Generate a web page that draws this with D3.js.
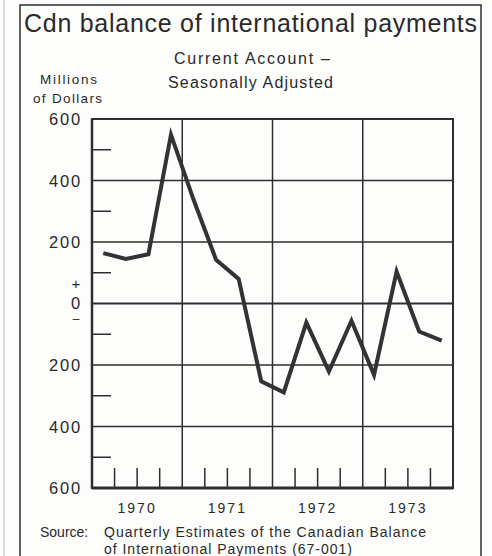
<!DOCTYPE html>
<html>
<head>
<meta charset="utf-8">
<script src="https://cdn.jsdelivr.net/npm/d3@7"></script>
<style>
  html, body { margin: 0; padding: 0; background: #fdfdfc; }
  svg { display: block; }
  text { font-family: "Liberation Sans", Arial, sans-serif; fill: #2a2a2a; }
</style>
</head>
<body>
<div id="chart"></div>
<script>
// Quarterly current account balance, 1970 Q1 – 1973 Q4 (millions of dollars)
const quarters = ["1970Q1","1970Q2","1970Q3","1970Q4","1971Q1","1971Q2","1971Q3","1971Q4",
                  "1972Q1","1972Q2","1972Q3","1972Q4","1973Q1","1973Q2","1973Q3","1973Q4"];
const balance = [164, 145, 160, 549, 338, 142, 80, -253, -289, -62, -221, -56, -232, 104, -91, -121];
const years = ["1970", "1971", "1972", "1973"];
const yTickValues = [600, 400, 200, 0, -200, -400, -600];
const yTickLabels = ["600", "400", "200", "0", "200", "400", "600"];
const minorTicks = [500, 300, 100, -100, -300, -500];

const W = 492, H = 556;
const svg = d3.select("#chart").append("svg")
    .attr("width", W)
    .attr("height", H);

const x = d3.scaleLinear().domain([0, quarters.length]).range([92, 453]);
const y = d3.scaleLinear().domain([-600, 600]).range([488, 119]);
const ink = "#2e2e2e";

// outer frame (bottom runs off the page) and scan edge
svg.append("line").attr("x1", 4).attr("x2", 4).attr("y1", 0).attr("y2", H)
    .attr("stroke", "#bbb").attr("stroke-width", 1);
svg.append("path")
    .attr("d", `M20,${H} V5 H481 V${H}`)
    .attr("fill", "none").attr("stroke", ink).attr("stroke-width", 1.5);

// title
svg.append("text").attr("x", 24).attr("y", 32)
    .attr("font-size", 25).attr("textLength", 453).attr("lengthAdjust", "spacing")
    .text("Cdn balance of international payments");
svg.append("text").attr("x", 174).attr("y", 64)
    .attr("font-size", 16).attr("textLength", 156).attr("lengthAdjust", "spacing")
    .text("Current Account \u2013");
svg.append("text").attr("x", 168).attr("y", 88)
    .attr("font-size", 16).attr("textLength", 165).attr("lengthAdjust", "spacing")
    .text("Seasonally Adjusted");
svg.append("text").attr("x", 40).attr("y", 84)
    .attr("font-size", 13.5).attr("textLength", 57).attr("lengthAdjust", "spacing")
    .text("Millions");
svg.append("text").attr("x", 33).attr("y", 103)
    .attr("font-size", 13.5).attr("textLength", 69).attr("lengthAdjust", "spacing")
    .text("of Dollars");

const g = svg.append("g");

// horizontal grid
g.selectAll("line.hgrid").data(yTickValues.slice(1, -1)).enter().append("line")
    .attr("x1", x(0)).attr("x2", x(16))
    .attr("y1", d => y(d)).attr("y2", d => y(d))
    .attr("stroke", ink).attr("stroke-width", d => d === 0 ? 2 : 1.5);

// vertical year boundaries
g.selectAll("line.vgrid").data([4, 8, 12]).enter().append("line")
    .attr("x1", d => x(d)).attr("x2", d => x(d))
    .attr("y1", y(600)).attr("y2", y(-600))
    .attr("stroke", ink).attr("stroke-width", 1.5);

// minor ticks on the left
g.selectAll("line.minor").data(minorTicks).enter().append("line")
    .attr("x1", x(0)).attr("x2", x(0) + 19)
    .attr("y1", d => y(d)).attr("y2", d => y(d))
    .attr("stroke", ink).attr("stroke-width", 1.5);

// quarter ticks along the bottom
const qTicks = d3.range(1, 16).filter(i => i % 4 !== 0);
g.selectAll("line.qtick").data(qTicks).enter().append("line")
    .attr("x1", d => x(d)).attr("x2", d => x(d))
    .attr("y1", y(-600)).attr("y2", y(-600) - 20)
    .attr("stroke", ink).attr("stroke-width", 1.5);

// plot frame
g.append("rect")
    .attr("x", x(0)).attr("y", y(600))
    .attr("width", x(16) - x(0)).attr("height", y(-600) - y(600))
    .attr("fill", "none").attr("stroke", ink).attr("stroke-width", 2);
g.append("line").attr("x1", x(0)).attr("x2", x(16)).attr("y1", y(-600)).attr("y2", y(-600))
    .attr("stroke", ink).attr("stroke-width", 3);
g.append("line").attr("x1", x(0)).attr("x2", x(0)).attr("y1", y(600)).attr("y2", y(-600))
    .attr("stroke", ink).attr("stroke-width", 2.5);

// y labels
g.selectAll("text.ylab").data(yTickValues).enter().append("text")
    .attr("x", 82).attr("y", d => y(d) + (d === 0 ? 5 : 6))
    .attr("text-anchor", "end").attr("font-size", 16.5).attr("letter-spacing", 1.8)
    .text((d, i) => yTickLabels[i]);
g.append("text").attr("x", 76).attr("y", y(0) - 20)
    .attr("text-anchor", "middle").attr("dominant-baseline", "central")
    .attr("font-size", 15).text("+");
g.append("text").attr("x", 76).attr("y", y(0) + 15)
    .attr("text-anchor", "middle").attr("dominant-baseline", "central")
    .attr("font-size", 12).text("\u2013");

// year labels
g.selectAll("text.year").data(years).enter().append("text")
    .attr("x", (d, i) => x(i * 4 + 2))
    .attr("y", 513)
    .attr("text-anchor", "middle").attr("font-size", 14).attr("letter-spacing", 2)
    .text(d => d);

// data line
const line = d3.line()
    .x((d, i) => x(i + 0.5))
    .y(d => y(d));
g.append("path").datum(balance)
    .attr("d", line)
    .attr("fill", "none").attr("stroke", "#333")
    .attr("stroke-width", 4).attr("stroke-linejoin", "miter");

// source
svg.append("text").attr("x", 40).attr("y", 537).attr("font-size", 14)
    .text("Source:");
svg.append("text").attr("x", 104).attr("y", 537).attr("font-size", 14)
    .attr("textLength", 322).attr("lengthAdjust", "spacing")
    .text("Quarterly Estimates of the Canadian Balance");
svg.append("text").attr("x", 104).attr("y", 554).attr("font-size", 14)
    .attr("textLength", 248).attr("lengthAdjust", "spacing")
    .text("of International Payments (67-001)");
</script>
</body>
</html>
